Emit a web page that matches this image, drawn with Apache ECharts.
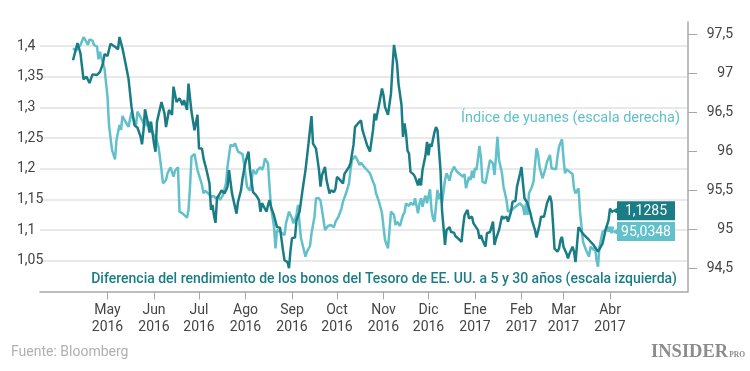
<!DOCTYPE html>
<html>
<head>
<meta charset="utf-8">
<script src="https://cdn.jsdelivr.net/npm/echarts@6/dist/echarts.min.js"></script>
<style>html,body{margin:0;padding:0;background:#fff}#c{width:750px;height:371px}</style>
</head>
<body>
<div id="c"></div>
<script>
// ---- DATA ----
const monthTickDates = ['2016-05-01','2016-06-01','2016-07-01','2016-08-01','2016-09-01','2016-10-01','2016-11-01','2016-12-01','2017-01-01','2017-02-01','2017-03-01','2017-04-01'];
const monthLabels = ['May\n2016','Jun\n2016','Jul\n2016','Ago\n2016','Sep\n2016','Oct\n2016','Nov\n2016','Dic\n2016','Ene\n2017','Feb\n2017','Mar\n2017','Abr\n2017'];
const leftTicks = [1.05, 1.1, 1.15, 1.2, 1.25, 1.3, 1.35, 1.4];
const rightTicks = [94.5, 95, 95.5, 96, 96.5, 97, 97.5];

const spreadName = 'Diferencia del rendimiento de los bonos del Tesoro de EE. UU. a 5 y 30 años (escala izquierda)';
const yuanName = 'Índice de yuanes (escala derecha)';

const spreadDates = [
'2016-04-08','2016-04-11','2016-04-13','2016-04-15','2016-04-17','2016-04-19','2016-04-21','2016-04-24','2016-04-26','2016-04-28','2016-04-29',
'2016-05-01','2016-05-03','2016-05-06','2016-05-08','2016-05-09','2016-05-11','2016-05-13','2016-05-15','2016-05-17','2016-05-19','2016-05-21','2016-05-23','2016-05-24','2016-05-25','2016-05-26','2016-05-28','2016-05-29','2016-05-30',
'2016-06-01','2016-06-02','2016-06-03','2016-06-06','2016-06-08','2016-06-09','2016-06-11','2016-06-13','2016-06-14','2016-06-16','2016-06-18','2016-06-20','2016-06-21','2016-06-23','2016-06-24','2016-06-26','2016-06-28','2016-06-30',
'2016-07-01','2016-07-03','2016-07-04','2016-07-06','2016-07-08','2016-07-09','2016-07-10','2016-07-11','2016-07-12','2016-07-13','2016-07-15','2016-07-16','2016-07-18','2016-07-19','2016-07-20','2016-07-21','2016-07-23','2016-07-24','2016-07-26','2016-07-27','2016-07-29','2016-07-30',
'2016-08-01','2016-08-03','2016-08-04','2016-08-06','2016-08-08','2016-08-10','2016-08-11','2016-08-12','2016-08-13','2016-08-15','2016-08-16','2016-08-17','2016-08-18','2016-08-20','2016-08-22','2016-08-23','2016-08-24','2016-08-26','2016-08-27','2016-08-28','2016-08-29','2016-08-30','2016-08-31',
'2016-09-01','2016-09-03','2016-09-04','2016-09-06','2016-09-08','2016-09-10','2016-09-12','2016-09-14','2016-09-15','2016-09-17','2016-09-19','2016-09-20','2016-09-21','2016-09-23','2016-09-24','2016-09-26','2016-09-27','2016-09-29','2016-09-30',
'2016-10-01','2016-10-03','2016-10-05','2016-10-06','2016-10-07','2016-10-09','2016-10-10','2016-10-12','2016-10-13','2016-10-14','2016-10-15','2016-10-17','2016-10-18','2016-10-20','2016-10-21','2016-10-23','2016-10-25','2016-10-26','2016-10-27','2016-10-29','2016-10-31',
'2016-11-01','2016-11-02','2016-11-04','2016-11-06','2016-11-07','2016-11-08','2016-11-10','2016-11-11','2016-11-13','2016-11-14','2016-11-15','2016-11-16','2016-11-17','2016-11-18','2016-11-19','2016-11-21','2016-11-22','2016-11-24','2016-11-25','2016-11-26','2016-11-27','2016-11-29','2016-11-30',
'2016-12-01','2016-12-02','2016-12-03','2016-12-05','2016-12-06','2016-12-07','2016-12-08','2016-12-09','2016-12-10','2016-12-12','2016-12-13','2016-12-15','2016-12-16','2016-12-18','2016-12-19','2016-12-20','2016-12-21','2016-12-23','2016-12-24','2016-12-25','2016-12-27','2016-12-28','2016-12-30','2016-12-31',
'2017-01-01','2017-01-03','2017-01-04','2017-01-05','2017-01-06','2017-01-08','2017-01-09','2017-01-10','2017-01-11','2017-01-13','2017-01-14','2017-01-15','2017-01-17','2017-01-19','2017-01-20','2017-01-22','2017-01-23','2017-01-25','2017-01-26','2017-01-28','2017-01-29','2017-01-31',
'2017-02-01','2017-02-02','2017-02-03','2017-02-05','2017-02-07','2017-02-08','2017-02-10','2017-02-11','2017-02-13','2017-02-14','2017-02-16','2017-02-17','2017-02-18','2017-02-20','2017-02-21','2017-02-22','2017-02-23','2017-02-24','2017-02-25','2017-02-26','2017-02-27','2017-02-28',
'2017-03-01','2017-03-03','2017-03-04','2017-03-05','2017-03-07','2017-03-08','2017-03-09','2017-03-11','2017-03-14','2017-03-18','2017-03-21','2017-03-24','2017-03-27','2017-03-29','2017-03-31',
'2017-04-01','2017-04-02','2017-04-03'
];
const spreadValues = [
1.377,1.405,1.388,1.346,1.350,1.340,1.354,1.353,1.358,1.372,1.387,
1.384,1.404,1.399,1.395,1.415,1.396,1.372,1.347,1.301,1.271,1.267,1.253,1.240,1.263,1.297,1.274,1.259,1.277,
1.241,1.228,1.277,1.309,1.290,1.268,1.296,1.288,1.334,1.309,1.315,1.304,1.312,1.296,1.339,1.293,1.263,1.288,
1.233,1.233,1.217,1.198,1.176,1.133,1.141,1.124,1.112,1.152,1.160,1.165,1.160,1.165,1.171,1.198,1.160,1.149,1.127,1.146,1.165,1.184,
1.211,1.228,1.198,1.162,1.157,1.149,1.130,1.144,1.146,1.130,1.141,1.149,1.138,1.124,1.105,1.103,1.104,1.067,1.051,1.054,1.048,1.038,1.067,
1.087,1.088,1.116,1.130,1.165,1.198,1.241,1.286,1.241,1.233,1.198,1.171,1.190,1.203,1.182,1.160,1.165,1.162,1.168,
1.187,1.182,1.176,1.192,1.195,1.203,1.209,1.239,1.268,1.268,1.274,1.279,1.263,1.247,1.239,1.228,1.263,1.290,1.279,1.304,1.331,
1.320,1.301,1.288,1.323,1.366,1.402,1.372,1.339,1.304,1.252,1.274,1.258,1.230,1.225,1.195,1.191,1.187,1.173,1.184,1.173,1.198,1.222,1.244,
1.222,1.241,1.236,1.260,1.268,1.263,1.266,1.198,1.133,1.076,1.100,1.105,1.097,1.096,1.090,1.093,1.086,1.081,1.105,1.124,1.133,1.119,1.122,1.111,
1.108,1.100,1.086,1.092,1.084,1.073,1.095,1.094,1.097,1.114,1.076,1.086,1.100,1.123,1.119,1.122,1.114,1.130,1.146,1.148,1.171,1.192,
1.203,1.176,1.152,1.144,1.127,1.116,1.100,1.088,1.108,1.122,1.122,1.124,1.144,1.156,1.146,1.111,1.070,1.073,1.065,1.070,1.084,1.089,
1.073,1.062,1.054,1.062,1.073,1.065,1.048,1.105,1.094,1.084,1.076,1.065,1.078,1.100,1.116,
1.135,1.133,1.1285
];

const yuanDates = [
'2016-04-08','2016-04-10','2016-04-13','2016-04-15','2016-04-16','2016-04-18','2016-04-19','2016-04-21','2016-04-22','2016-04-24','2016-04-25','2016-04-26','2016-04-27','2016-04-28','2016-04-29','2016-04-30',
'2016-05-01','2016-05-02','2016-05-04','2016-05-06','2016-05-07','2016-05-09','2016-05-10','2016-05-11','2016-05-13','2016-05-15','2016-05-17','2016-05-18','2016-05-20','2016-05-21','2016-05-23','2016-05-25','2016-05-26','2016-05-27','2016-05-29','2016-05-30','2016-05-31',
'2016-06-02','2016-06-03','2016-06-04','2016-06-06','2016-06-07','2016-06-09','2016-06-10','2016-06-12','2016-06-14','2016-06-15','2016-06-17','2016-06-18','2016-06-20','2016-06-23','2016-06-24','2016-06-25','2016-06-26','2016-06-28','2016-06-30',
'2016-07-03','2016-07-04','2016-07-05','2016-07-07','2016-07-09','2016-07-11','2016-07-12','2016-07-14','2016-07-15','2016-07-17','2016-07-18','2016-07-19','2016-07-20','2016-07-22','2016-07-24','2016-07-25','2016-07-27','2016-07-28','2016-07-30','2016-07-31',
'2016-08-01','2016-08-02','2016-08-04','2016-08-05','2016-08-06','2016-08-08','2016-08-09','2016-08-11','2016-08-12','2016-08-13','2016-08-14','2016-08-16','2016-08-17','2016-08-18','2016-08-20','2016-08-21','2016-08-22','2016-08-24','2016-08-25','2016-08-27','2016-08-28','2016-08-30',
'2016-09-01','2016-09-02','2016-09-04','2016-09-05','2016-09-06','2016-09-07','2016-09-08','2016-09-10','2016-09-11','2016-09-13','2016-09-14','2016-09-16','2016-09-17','2016-09-19','2016-09-20','2016-09-21','2016-09-22','2016-09-23','2016-09-25','2016-09-27','2016-09-29','2016-09-30',
'2016-10-02','2016-10-04','2016-10-05','2016-10-07','2016-10-09','2016-10-10','2016-10-11','2016-10-13','2016-10-14','2016-10-16','2016-10-17','2016-10-19','2016-10-20','2016-10-21','2016-10-23','2016-10-24','2016-10-25','2016-10-26','2016-10-27','2016-10-29','2016-10-31',
'2016-11-01','2016-11-02','2016-11-04','2016-11-05','2016-11-06','2016-11-08','2016-11-09','2016-11-10','2016-11-12','2016-11-13','2016-11-14','2016-11-15','2016-11-16','2016-11-18','2016-11-19','2016-11-21','2016-11-22','2016-11-24','2016-11-25','2016-11-26','2016-11-27','2016-11-28','2016-11-29','2016-11-30',
'2016-12-02','2016-12-03','2016-12-04','2016-12-05','2016-12-07','2016-12-08','2016-12-09','2016-12-10','2016-12-12','2016-12-13','2016-12-14','2016-12-15','2016-12-16','2016-12-18','2016-12-19','2016-12-20','2016-12-22','2016-12-24','2016-12-25','2016-12-26','2016-12-28','2016-12-29','2016-12-30','2016-12-31',
'2017-01-01','2017-01-02','2017-01-04','2017-01-05','2017-01-06','2017-01-08','2017-01-09','2017-01-11','2017-01-13','2017-01-14','2017-01-15','2017-01-16','2017-01-17','2017-01-19','2017-01-20','2017-01-22','2017-01-23','2017-01-24','2017-01-26','2017-01-28','2017-01-29','2017-01-31',
'2017-02-02','2017-02-03','2017-02-04','2017-02-05','2017-02-06','2017-02-08','2017-02-09','2017-02-11','2017-02-12','2017-02-13','2017-02-15','2017-02-17','2017-02-18','2017-02-20','2017-02-21','2017-02-22','2017-02-24','2017-02-25','2017-02-26','2017-02-28',
'2017-03-01','2017-03-02','2017-03-03','2017-03-05','2017-03-07','2017-03-08','2017-03-09','2017-03-11','2017-03-12','2017-03-13','2017-03-14','2017-03-16','2017-03-18','2017-03-19','2017-03-21','2017-03-22','2017-03-23','2017-03-24','2017-03-25','2017-03-27','2017-03-29','2017-03-30','2017-03-31',
'2017-04-01','2017-04-02','2017-04-03'
];
const yuanValues = [
97.321,97.290,97.363,97.462,97.436,97.363,97.436,97.418,97.363,97.341,97.179,97.277,97.192,97.128,97.064,97.051,
96.700,96.337,96.017,95.897,96.145,96.337,96.273,96.453,96.379,96.315,96.508,96.423,96.337,96.508,96.436,96.359,96.401,96.324,96.379,96.315,96.231,
96.187,96.196,96.059,95.760,95.590,95.632,95.718,95.795,95.674,95.751,95.795,95.226,95.205,95.149,95.247,95.546,95.931,95.965,95.760,
95.568,95.462,95.495,95.462,95.418,95.427,95.397,95.418,95.376,95.440,95.418,95.590,95.803,96.081,96.068,96.103,95.995,95.982,95.965,95.846,
95.696,95.546,95.495,95.610,95.760,95.709,95.760,95.795,95.760,95.812,95.910,95.846,95.546,95.290,95.033,94.756,94.991,94.969,94.949,94.927,95.077,95.226,
95.141,95.077,95.183,95.312,95.077,94.885,94.863,94.649,94.713,94.786,94.949,95.162,95.397,95.397,95.367,95.247,95.119,94.991,95.042,95.055,95.026,95.097,
95.162,95.269,95.354,95.462,95.590,95.760,95.888,95.940,95.910,95.824,95.854,95.803,95.824,95.760,95.718,95.709,95.610,95.568,95.462,95.354,95.205,
95.033,94.863,94.756,94.991,95.226,95.183,95.055,95.097,95.042,95.119,95.183,95.213,95.333,95.299,95.341,95.312,95.397,95.205,95.333,95.397,95.290,95.376,95.431,95.333,
95.513,95.247,95.141,95.097,95.504,95.385,95.462,95.333,95.632,95.718,95.674,95.623,95.718,95.803,95.769,95.738,95.705,95.674,95.709,95.526,95.674,95.632,95.751,95.658,
95.786,95.760,96.068,95.910,95.610,95.590,95.610,95.888,95.846,95.696,95.931,96.187,95.888,95.718,95.546,95.376,95.226,95.247,95.256,95.290,95.312,95.333,
95.290,95.183,95.333,95.183,95.462,95.546,95.610,96.038,95.974,95.803,95.654,95.782,95.867,95.953,95.782,95.803,95.769,95.931,96.059,96.154,
95.910,95.718,95.769,95.738,95.709,95.526,95.462,95.526,95.226,95.033,94.841,94.735,94.649,94.777,94.735,94.777,94.606,94.521,94.777,94.969,94.991,95.042,94.969,
95.033,94.949,95.0348
];

// ---- CHART ----
const DARK = '#1a7d86';
const LIGHT = '#62c0ca';
const FONT = 'Roboto';
const toLocalTs = s => { const p = s.split('-').map(Number); return new Date(p[0], p[1] - 1, p[2]).getTime(); };
const monthTickValues = monthTickDates.map(toLocalTs);
const comma = v => String(Math.round(v * 10000) / 10000).replace('.', ',');

const tagLabel = color => ({
  show: true,
  formatter: p => '{t|◀}{v|' + comma(p.value[1]) + '}',
  distance: 0,
  rich: {
    t: { color: color, fontSize: 9, width: 4, align: 'right', fontFamily: 'DejaVu Sans' },
    v: { backgroundColor: color, color: '#fff', fontSize: 14, fontFamily: FONT, width: 52, align: 'center', padding: [2, 3, 1, 3], height: 16, lineHeight: 16 }
  }
});

const chart = echarts.init(document.getElementById('c'), null, { renderer: 'canvas' });
chart.setOption({
  animation: false,
  backgroundColor: '#fff',
  textStyle: { fontFamily: FONT },
  title: [
    { text: yuanName, right: 70, top: 111, padding: 0,
      textStyle: { color: LIGHT, fontSize: 14.5, fontWeight: 'normal', fontFamily: FONT } },
    { text: spreadName, right: 73, top: 272, padding: 0,
      textStyle: { color: DARK, fontSize: 14, fontWeight: 500, fontFamily: FONT } },
    { text: 'Fuente: Bloomberg', left: 11, top: 345, padding: 0,
      textStyle: { color: '#b0b0b0', fontSize: 14, fontWeight: 'normal', fontFamily: FONT } },
    { text: '{a|INSIDER}{b|PRO}', right: 5, top: 343, padding: 0,
      textStyle: { rich: {
        a: { fontFamily: 'Liberation Serif', fontWeight: 'bold', fontSize: 18.5, color: '#8c8c8c' },
        b: { fontFamily: 'Liberation Serif', fontWeight: 'bold', fontSize: 7.5, color: '#8c8c8c', verticalAlign: 'bottom', padding: [0, 0, 3, 1] }
      } } }
  ],
  grid: { left: 40, right: 62, top: 22, bottom: 79.5, containLabel: false },
  xAxis: {
    type: 'value',
    min: toLocalTs('2016-03-17'),
    max: toLocalTs('2017-05-23'),
    axisLine: { show: true, lineStyle: { color: '#a8a8a8', width: 1.5 } },
    axisTick: { show: true, length: 8, lineStyle: { color: '#a8a8a8', width: 1 }, customValues: monthTickValues },
    axisLabel: {
      customValues: monthTickValues,
      formatter: v => { const i = monthTickValues.indexOf(v); return i >= 0 ? monthLabels[i] : ''; },
      color: '#444', fontSize: 14, lineHeight: 17, margin: 10, fontFamily: FONT
    },
    splitLine: { show: false }
  },
  yAxis: [
    {
      type: 'value', position: 'left', min: 1.0, max: 1.4394, interval: 0.05,
      axisLine: { show: false }, axisTick: { show: false },
      splitLine: { show: true, showMinLine: false, showMaxLine: false, lineStyle: { color: '#e2e2e2', width: 1.5 } },
      axisLabel: { customValues: leftTicks, formatter: comma, align: 'left', margin: 23, color: '#444', fontSize: 14, fontFamily: FONT }
    },
    {
      type: 'value', position: 'right', min: 94.2026, max: 97.6577,
      axisLine: { show: true, lineStyle: { color: '#a8a8a8', width: 1.5 } },
      axisTick: { show: true, length: 9, customValues: rightTicks, lineStyle: { color: '#a8a8a8' } },
      splitLine: { show: false },
      axisLabel: { customValues: rightTicks, formatter: comma, align: 'right', margin: 45, color: '#444', fontSize: 14, fontFamily: FONT }
    }
  ],
  series: [
    {
      name: yuanName, type: 'line', yAxisIndex: 1, showSymbol: false, symbol: 'none',
      data: yuanDates.map((d, i) => [toLocalTs(d), yuanValues[i]]),
      lineStyle: { color: LIGHT, width: 2.5 }, itemStyle: { color: LIGHT },
      endLabel: Object.assign(tagLabel(LIGHT), { offset: [0, 5] }),
      z: 2
    },
    {
      name: spreadName, type: 'line', yAxisIndex: 0, showSymbol: false, symbol: 'none',
      data: spreadDates.map((d, i) => [toLocalTs(d), spreadValues[i]]),
      lineStyle: { color: DARK, width: 2.5 }, itemStyle: { color: DARK },
      endLabel: Object.assign(tagLabel(DARK), { offset: [0, -2] }),
      z: 3
    }
  ]
});
</script>
</body>
</html>
